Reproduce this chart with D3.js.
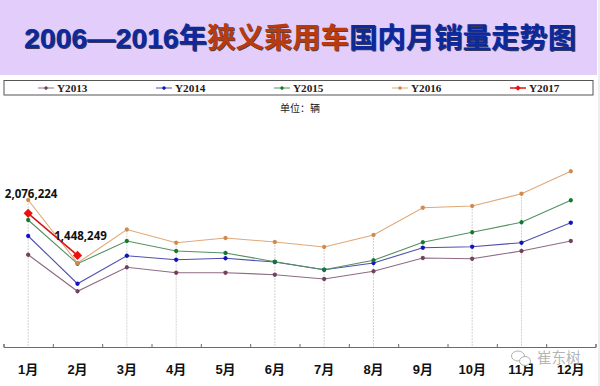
<!DOCTYPE html>
<html>
<head>
<meta charset="utf-8">
<script src="https://cdn.jsdelivr.net/npm/d3@7"></script>
<style>
  html, body { margin: 0; padding: 0; background: #fff; }
  svg { display: block; }
  .cn { font-family: "Liberation Sans", "Noto Sans CJK SC", sans-serif; }
</style>
</head>
<body>
<script>
// values
var months = ["1月", "2月", "3月", "4月", "5月", "6月", "7月", "8月", "9月", "10月", "11月", "12月"];
var seriesNames = ["Y2013", "Y2014", "Y2015", "Y2016", "Y2017"];
var y2013 = [1458000, 912000, 1270000, 1190000, 1190000, 1160000, 1096000, 1211000, 1409000, 1399000, 1514000, 1663000];
var y2014 = [1738000, 1025000, 1443000, 1384000, 1405000, 1349000, 1234000, 1334000, 1563000, 1578000, 1638000, 1936000];
var y2015 = [1977000, 1324000, 1663000, 1514000, 1484000, 1354000, 1234000, 1375000, 1644000, 1793000, 1942000, 2271000];
var y2016 = [2275000, 1334000, 1835000, 1638000, 1708000, 1648000, 1573000, 1753000, 2160000, 2186000, 2369000, 2704000];
var y2017 = [2076224, 1448249];
var guideMonths = ["1月", "3月", "4月", "6月", "7月", "8月", "10月", "11月"];

var allSeries = [y2013, y2014, y2015, y2016, y2017];
var lineColors = ["#8f6a84", "#4f4fb0", "#55905f", "#dfa878", "#d81818"];
var dotColors = ["#74405f", "#1212c0", "#147a2a", "#d08a50", "#ee0f0f"];

var width = 600, height = 386;

var svg = d3.select("body").append("svg")
    .attr("width", width)
    .attr("height", height);

// title banner
svg.append("rect")
    .attr("width", 597)
    .attr("height", 75)
    .attr("fill", "#e2cdfb");

svg.append("rect")
    .attr("x", 598)
    .attr("width", 2)
    .attr("height", height)
    .attr("fill", "#eeeeee");

function drawTitle(dx, dy, blue, red) {
  var t = svg.append("text")
      .attr("class", "cn")
      .attr("x", 300 + dx)
      .attr("y", 48 + dy)
      .attr("text-anchor", "middle")
      .attr("font-size", 28.4)
      .attr("font-weight", "bold")
      .attr("fill", blue);
  t.append("tspan").text("2006—2016年");
  t.append("tspan").attr("fill", red).text("狭义乘用车");
  t.append("tspan").text("国内月销量走势图");
}
drawTitle(1, 1, "#3a3a58", "#5a4038");
drawTitle(0, 0, "#0c2a9e", "#b83a0e");

// legend box
svg.append("rect")
    .attr("x", 4)
    .attr("y", 80.5)
    .attr("width", 589)
    .attr("height", 14.5)
    .attr("fill", "#fff")
    .attr("stroke", "#555")
    .attr("stroke-width", 1);

var legendX = d3.scalePoint()
    .domain(seriesNames)
    .range([38, 510]);

var legend = svg.selectAll(".legend")
    .data(seriesNames)
  .enter().append("g")
    .attr("class", "legend")
    .attr("transform", function(d) { return "translate(" + legendX(d) + ",88)"; });

legend.append("line")
    .attr("x2", 16)
    .attr("stroke", function(d, i) { return lineColors[i]; })
    .attr("stroke-width", function(d, i) { return i == 4 ? 1.5 : 1; });

legend.append("path")
    .attr("transform", "translate(8,0) rotate(45)")
    .attr("d", function(d, i) {
      return i == 4 ? d3.symbol(d3.symbolSquare, 16)() : d3.symbol(d3.symbolCircle, 9)();
    })
    .attr("fill", function(d, i) { return dotColors[i]; });

legend.append("text")
    .attr("x", 19)
    .attr("y", 4)
    .attr("font-family", "Liberation Serif")
    .attr("font-weight", "bold")
    .attr("font-size", 11.2)
    .attr("fill", "#222")
    .text(function(d) { return d; });

svg.append("text")
    .attr("x", 300)
    .attr("y", 112)
    .attr("text-anchor", "middle")
    .attr("font-family", "Noto Sans CJK SC")
    .attr("font-size", 10)
    .attr("fill", "#222")
    .text("单位：辆");

// scales
var x = d3.scaleBand()
    .domain(months)
    .range([3.5, 595.5]);

var y = d3.scaleLinear()
    .domain([80000, 3500000])
    .range([347, 118]);

function px(i) { return x(months[i]) + x.bandwidth() / 2; }

// dotted drop lines
svg.selectAll(".guide")
    .data(guideMonths)
  .enter().append("line")
    .attr("class", "guide")
    .attr("x1", function(d) { return x(d) + x.bandwidth() / 2; })
    .attr("x2", function(d) { return x(d) + x.bandwidth() / 2; })
    .attr("y1", function(d) { return y(y2016[months.indexOf(d)]); })
    .attr("y2", y(80000))
    .attr("stroke", "#d2d2d2")
    .attr("stroke-width", 1)
    .attr("stroke-dasharray", "2,1");

// axis with ticks on the band edges
var edgeScale = d3.scaleLinear().domain([0, 12]).range(x.range());

svg.append("g")
    .attr("transform", "translate(0," + y(80000) + ")")
    .call(d3.axisBottom(edgeScale).ticks(12).tickSizeInner(-3).tickSizeOuter(-3).tickFormat(""))
    .call(function(g) {
      g.selectAll("path, line").attr("stroke", "#6a6a6a");
    });

var labelAxis = svg.append("g")
    .attr("transform", "translate(0,361.5)")
    .call(d3.axisBottom(x).tickSize(0));
labelAxis.select(".domain").remove();
labelAxis.selectAll("text")
    .attr("class", "cn")
    .attr("font-size", 13)
    .attr("font-weight", "bold")
    .attr("fill", "#111");

// series lines
var line = d3.line()
    .x(function(d, i) { return px(i); })
    .y(function(d) { return y(d); });

var groups = svg.selectAll(".series")
    .data(allSeries)
  .enter().append("g")
    .attr("class", "series");

groups.append("path")
    .attr("d", line)
    .attr("fill", "none")
    .attr("stroke", function(d, i) { return lineColors[i]; })
    .attr("stroke-width", function(d, i) { return i == 4 ? 1.6 : 1.1; });

groups.each(function(values, s) {
  d3.select(this).selectAll("path.mark")
      .data(values)
    .enter().append("path")
      .attr("class", "mark")
      .attr("transform", function(d, i) { return "translate(" + px(i) + "," + y(d) + ") rotate(45)"; })
      .attr("d", s == 4 ? d3.symbol(d3.symbolSquare, 42)() : d3.symbol(d3.symbolCircle, 14)())
      .attr("fill", dotColors[s]);
});

// labels on the 2017 points
svg.selectAll(".value")
    .data(y2017)
  .enter().append("text")
    .attr("class", "value")
    .attr("x", function(d, i) { return px(i) + 3; })
    .attr("y", function(d, i) { return y(d) - 15; })
    .attr("text-anchor", "middle")
    .attr("font-family", "Open Sans")
    .attr("font-weight", "bold")
    .attr("font-size", 11.5)
    .attr("fill", "#111")
    .text(d3.format(","));

// watermark
var mark = svg.append("g")
    .attr("transform", "translate(510,351)")
    .attr("fill", "none")
    .attr("stroke", "#b0b0b0")
    .attr("stroke-width", 1);
mark.append("ellipse").attr("cx", 8).attr("cy", 5).attr("rx", 6.5).attr("ry", 5);
mark.append("ellipse").attr("cx", 15).attr("cy", 10).attr("rx", 5.5).attr("ry", 4.5).attr("fill", "#fff");

svg.append("text")
    .attr("class", "cn")
    .attr("x", 537)
    .attr("y", 363)
    .attr("font-size", 14.5)
    .attr("fill", "#a8a8a8")
    .attr("fill-opacity", 0.85)
    .text("崔东树");
</script>
</body>
</html>
